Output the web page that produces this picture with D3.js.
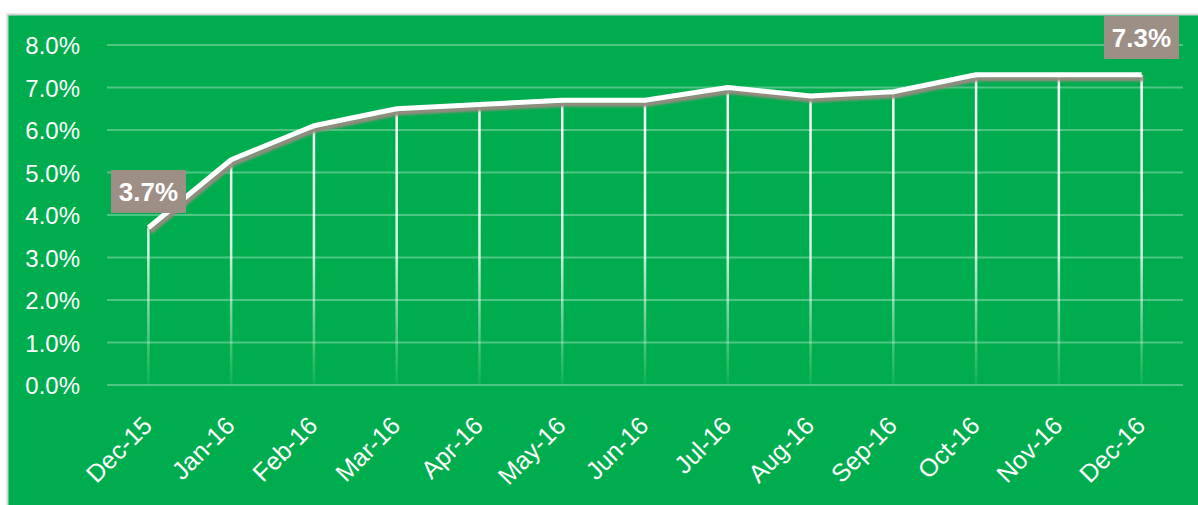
<!DOCTYPE html>
<html><head><meta charset="utf-8">
<script src="https://cdn.jsdelivr.net/npm/d3@7"></script>
<style>body{margin:0;background:#fff;}svg{display:block;}</style>
</head><body>
<svg id="chart" width="1198" height="505"></svg>
<script>
const months = ["Dec-15","Jan-16","Feb-16","Mar-16","Apr-16","May-16","Jun-16","Jul-16","Aug-16","Sep-16","Oct-16","Nov-16","Dec-16"];
const rates = [3.7,5.3,6.1,6.5,6.6,6.7,6.7,7.0,6.8,6.9,7.3,7.3,7.3];
const yTicks = [0,1,2,3,4,5,6,7,8];
const labelIdx = [0,12];

const svg = d3.select("#chart");
const font = "'Liberation Sans', Arial, sans-serif";

svg.append("rect").attr("x",7.5).attr("y",14.5).attr("width",1200).attr("height",500)
  .attr("fill","#00AD4E").attr("stroke","#D4D4D4").attr("stroke-width",2);

const x = d3.scaleBand().domain(months).range([107,1183]);
const y = d3.scaleLinear().domain([0,8]).range([385,45]);
const cx = d => x(d) + x.bandwidth()/2;

const defs = svg.append("defs");
const grad = defs.append("linearGradient").attr("id","drop").attr("gradientUnits","userSpaceOnUse")
  .attr("x1",0).attr("x2",0).attr("y1",y(7.3)).attr("y2",y(0));
grad.append("stop").attr("offset","0%").attr("stop-color","#fff").attr("stop-opacity",1);
grad.append("stop").attr("offset","55%").attr("stop-color","#fff").attr("stop-opacity",0.85);
grad.append("stop").attr("offset","100%").attr("stop-color","#fff").attr("stop-opacity",0.05);
const blur = defs.append("filter").attr("id","blur");
blur.append("feGaussianBlur").attr("stdDeviation",1);

// gridlines
svg.append("g").selectAll("line").data(yTicks).join("line")
  .attr("x1",107).attr("x2",1183).attr("y1",d=>y(d)).attr("y2",d=>y(d))
  .attr("stroke","#fff").attr("stroke-opacity",0.3).attr("stroke-width",2);

// y axis labels
const yAxis = d3.axisLeft(y).tickValues(yTicks).tickFormat(d=>d.toFixed(1)+"%").tickSize(0).tickPadding(0);
const gy = svg.append("g").attr("transform","translate(80,0)").call(yAxis);
gy.select(".domain").remove();
gy.selectAll("text").attr("fill","#fff").style("font-family",font).style("font-size","24px").attr("dy","0.36em");

// drop lines
svg.append("g").selectAll("line").data(months).join("line")
  .attr("x1",d=>cx(d)).attr("x2",d=>cx(d))
  .attr("y1",(d,i)=>y(rates[i])).attr("y2",y(0))
  .attr("stroke","url(#drop)").attr("stroke-width",2.5);

// line shadow + line
const line = d3.line().x((d,i)=>cx(months[i])).y(d=>y(d));
svg.append("path").datum(rates).attr("d",line).attr("fill","none")
  .attr("stroke","#978A80").attr("stroke-width",5).attr("transform","translate(2,4)")
  .attr("filter","url(#blur)");
svg.append("path").datum(rates).attr("d",line).attr("fill","none")
  .attr("stroke","#fff").attr("stroke-width",5).attr("stroke-linejoin","round");

// x axis labels
const gx = svg.append("g").attr("transform","translate(0,400)");
gx.selectAll("text").data(months).join("text")
  .attr("transform",d=>`translate(${cx(d)-1},21) rotate(-45)`)
  .attr("text-anchor","end").attr("dy","0.35em")
  .attr("fill","#fff").style("font-family",font).style("font-size","25px")
  .text(d=>d);

// data labels
const lbl = svg.append("g");
const boxes = [{i:0,x:111,y:170},{i:12,x:1104,y:16}];
boxes.forEach(b=>{
  lbl.append("rect").attr("x",b.x).attr("y",b.y).attr("width",75).attr("height",43).attr("fill","#9D8E86");
  lbl.append("text").attr("x",b.x+37.5).attr("y",b.y+21.5).attr("dy","0.36em").attr("text-anchor","middle")
    .attr("fill","#fff").style("font-family",font).style("font-weight","bold").style("font-size","26px")
    .text(rates[b.i].toFixed(1)+"%");
});
</script>
</body></html>
